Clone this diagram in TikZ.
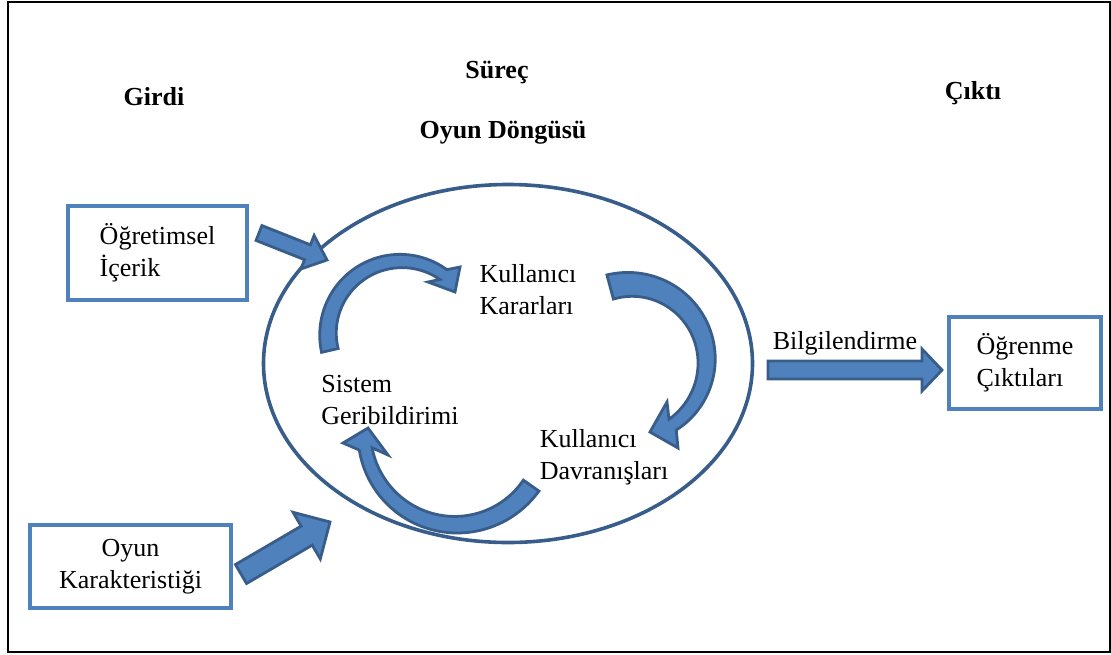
\documentclass[tikz,border=0pt]{standalone}
\usepackage{fontspec}
\setmainfont{Liberation Serif}
\usetikzlibrary{shapes.geometric,calc}
\definecolor{boxblue}{HTML}{4F81BD}
\definecolor{darkblue}{HTML}{385D8A}
\tikzset{
  txt/.style={font=\fontsize{26}{32}\selectfont, inner sep=0pt, align=left},
  headtxt/.style={font=\fontsize{26}{32}\selectfont\bfseries, inner sep=0pt},
  inbox/.style={draw=boxblue, line width=4pt, rectangle, inner sep=0pt,
    font=\fontsize{26}{32}\selectfont},
  blockarrow/.style={fill=boxblue, draw=darkblue, line width=2.8pt, line join=miter},
  curvarrow/.style={fill=boxblue, draw=darkblue, line width=2.8pt, line join=miter},
}
% tail, tip, half shaft, half head, head length
\newcommand{\blockarr}[5]{%
  \coordinate (ba-b) at ($(#2)!#5!(#1)$);
  \filldraw[blockarrow] ($(#1)!#3!90:(#2)$) -- ($(ba-b)!#3!-90:(#1)$) --
    ($(ba-b)!#4!-90:(#1)$) -- (#2) -- ($(ba-b)!#4!90:(#1)$) --
    ($(ba-b)!#3!90:(#1)$) -- ($(#1)!#3!-90:(#2)$) -- cycle;}
% cx, cy, r, t0, t1, w0, w1, head prefix
\newcommand{\curvarr}[8]{%
  \filldraw[curvarrow] plot[domain=#4:#5,samples=60,variable=\t]
   ({#1+(#3+(#6+(#7-#6)*(\t-#4)/(#5-#4))/2)*cos(\t)},{#2+(#3+(#6+(#7-#6)*(\t-#4)/(#5-#4))/2)*sin(\t)})
   -- (#8o) -- (#8t) -- (#8i) --
   plot[domain=#5:#4,samples=60,variable=\t]
   ({#1+(#3-(#6+(#7-#6)*(\t-#4)/(#5-#4))/2)*cos(\t)},{#2+(#3-(#6+(#7-#6)*(\t-#4)/(#5-#4))/2)*sin(\t)})
   -- cycle;}
\begin{document}
\begin{tikzpicture}[x=1pt,y=-1pt]
\useasboundingbox (0,0) rectangle (1111,654);
\draw[line width=1.2pt] (8,2) rectangle (1110,652);

% headings
\node[headtxt] (girdi) at (154,97) {Girdi};
\node[headtxt] (surec) at (497,72) {Süreç};
\node[headtxt] (dongu) at (503,133) {Oyun Döngüsü};
\node[headtxt] (cikti) at (973,93) {Çıktı};

% main loop ellipse
\node[ellipse, draw=darkblue, line width=3.6pt, minimum width=489pt, minimum height=358pt, inner sep=0pt] (loop) at (508,363.5) {};

% boxes
\node[inbox, minimum width=179pt, minimum height=94pt, align=left] (icerik) at (157.5,253) {Öğretimsel\\İçerik};
\node[inbox, minimum width=201pt, minimum height=83pt, align=center] (karakter) at (130.5,566.5) {Oyun\\Karakteristiği};
\node[inbox, minimum width=152pt, minimum height=92pt, align=left] (ogrenme) at (1025,363) {Öğrenme\\Çıktıları};

% texts in the loop
\node[txt] (karar) at (528,290) {Kullanıcı\\Kararları};
\node[txt] (sistem) at (390,400) {Sistem\\Geribildirimi};
\node[txt] (davran) at (604,457) {Kullanıcı\\Davranışları};
\node[txt] (bilgi) at (845,343) {Bilgilendirme};

% block arrows
\coordinate (a1s) at (259,233); \coordinate (a1e) at (327,260);
\blockarr{a1s}{a1e}{8pt}{18pt}{21pt}
\coordinate (a2s) at (241,574); \coordinate (a2e) at (330,522);
\blockarr{a2s}{a2e}{11pt}{27pt}{27pt}
\coordinate (a3s) at (768,370); \coordinate (a3e) at (942,370);
\blockarr{a3s}{a3e}{9pt}{21pt}{20pt}

% curved arrows
\coordinate (h1o) at (460,267); \coordinate (h1t) at (455,292); \coordinate (h1i) at (428,282);
\curvarr{401}{334}{73}{167}{305.5}{17}{12}{h1}
\coordinate (h2o) at (678,448); \coordinate (h2t) at (650,432); \coordinate (h2i) at (667,402);
\curvarr{630}{361}{76.6}{-105}{56.2}{25}{13}{h2}
\coordinate (h3o) at (343,443); \coordinate (h3t) at (368,428); \coordinate (h3i) at (388,455);
\curvarr{456}{433}{91.7}{35}{170}{19}{13}{h3}
\end{tikzpicture}
\end{document}
